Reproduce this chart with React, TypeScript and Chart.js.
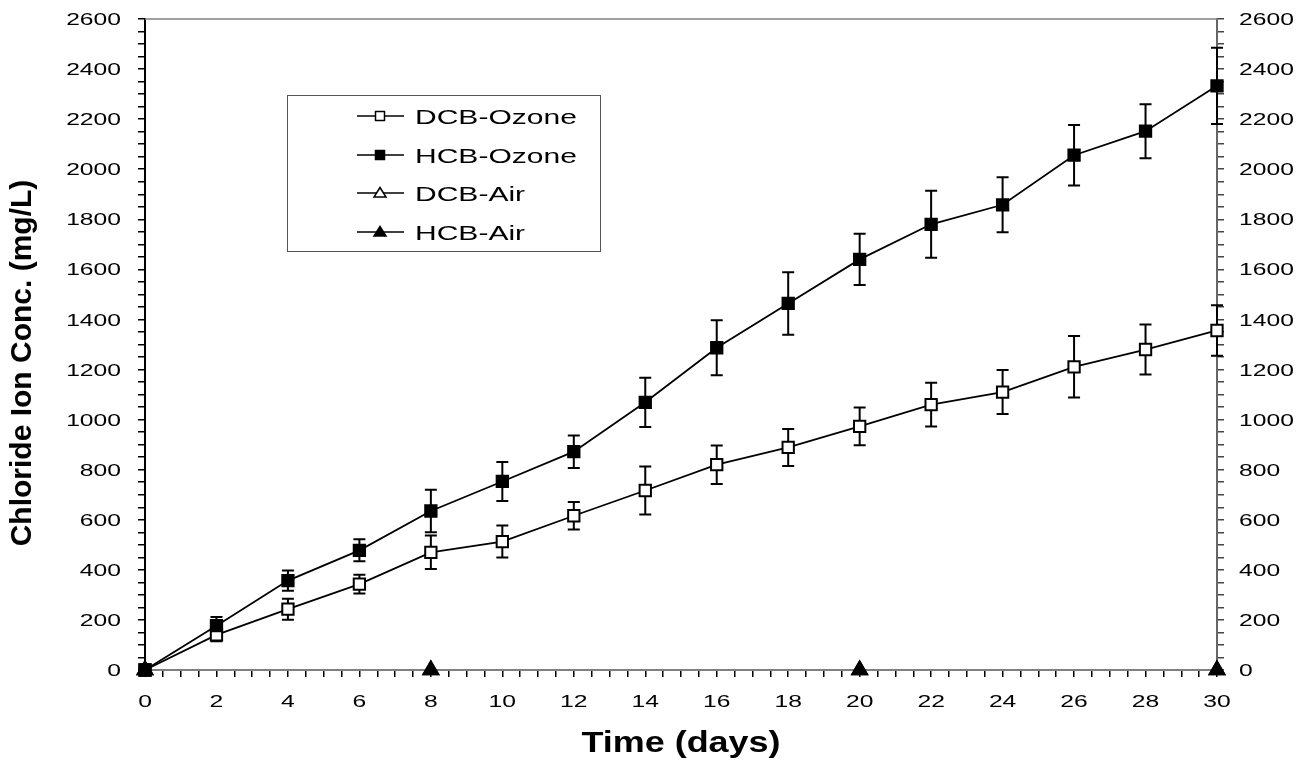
import React, { useEffect, useRef } from "react";
import { Chart, registerables } from "chart.js";

Chart.register(...registerables);

const days = [0, 2, 4, 6, 8, 10, 12, 14, 16, 18, 20, 22, 24, 26, 28, 30];
const dcbOzone = [0, 140, 243, 343, 470, 513, 616, 717, 820, 889, 973, 1060, 1110, 1211, 1280, 1356];
const dcbOzoneErr = [0, 25, 42, 37, 67, 64, 55, 96, 77, 74, 75, 87, 88, 123, 100, 101];
const hcbOzone = [0, 177, 357, 478, 635, 753, 872, 1069, 1287, 1464, 1640, 1780, 1858, 2056, 2152, 2333];
const hcbOzoneErr = [0, 35, 40, 44, 85, 78, 65, 98, 110, 125, 102, 134, 110, 121, 108, 152];
const airDays = [0, 8, 20, 30];
const dcbAir = [0, 0, 0, 0];
const hcbAir = [0, 0, 0, 0];
const seriesNames = ["DCB-Ozone", "HCB-Ozone", "DCB-Air", "HCB-Air"];
const xTitle = "Time (days)";
const yTitle = "Chloride Ion Conc. (mg/L)";

const FONT = "'Liberation Sans', Arial, sans-serif";

function stretchedText(ctx: CanvasRenderingContext2D, text: string, x: number, y: number, align: CanvasTextAlign, sx: number) {
  ctx.save();
  ctx.translate(x, y);
  ctx.scale(sx, 1);
  ctx.textAlign = align;
  ctx.textBaseline = "alphabetic";
  ctx.fillText(text, 0, 0);
  ctx.restore();
}

const errorBarPlugin = {
  id: "errorBars",
  beforeDatasetsDraw(chart: any) {
    const ctx = chart.ctx;
    const xs = chart.scales.x;
    const ys = chart.scales.y;
    const sets = [
      { vals: dcbOzone, errs: dcbOzoneErr },
      { vals: hcbOzone, errs: hcbOzoneErr },
    ];
    ctx.save();
    ctx.strokeStyle = "#000";
    ctx.lineWidth = 2;
    sets.forEach(({ vals, errs }) => {
      days.forEach((d, i) => {
        if (!errs[i]) return;
        const x = xs.getPixelForValue(d);
        const yt = ys.getPixelForValue(vals[i] + errs[i]);
        const yb = ys.getPixelForValue(vals[i] - errs[i]);
        ctx.beginPath();
        ctx.moveTo(x, yt);
        ctx.lineTo(x, yb);
        ctx.moveTo(x - 6, yt);
        ctx.lineTo(x + 6, yt);
        ctx.moveTo(x - 6, yb);
        ctx.lineTo(x + 6, yb);
        ctx.stroke();
      });
    });
    ctx.restore();
  },
};

const decorPlugin = {
  id: "decor",
  afterDraw(chart: any) {
    const ctx: CanvasRenderingContext2D = chart.ctx;
    const { left, right, top } = chart.chartArea;
    const xs = chart.scales.x;
    const ys = chart.scales.y;
    const y2 = chart.scales.y2;
    ctx.save();
    // top frame line
    ctx.strokeStyle = "#808080";
    ctx.lineWidth = 1.5;
    ctx.beginPath();
    ctx.moveTo(left, top);
    ctx.lineTo(right, top);
    ctx.stroke();

    // tick labels
    ctx.fillStyle = "#000";
    const tf = 17;
    ctx.font = `${tf}px ${FONT}`;
    const sxTick = 1.45;
    xs.ticks.forEach((t: any) => {
      if (Math.abs(t.value % 2) > 1e-6) return;
      stretchedText(ctx, String(t.value), xs.getPixelForValue(t.value), 707, "center", sxTick);
    });
    ys.ticks.forEach((t: any) => {
      if (Math.abs(t.value % 200) > 1e-6) return;
      const py = ys.getPixelForValue(t.value) + 0.358 * tf;
      stretchedText(ctx, String(t.value), 121, py, "right", sxTick);
    });
    y2.ticks.forEach((t: any) => {
      if (Math.abs(t.value % 200) > 1e-6) return;
      const py = y2.getPixelForValue(t.value) + 0.358 * tf;
      stretchedText(ctx, String(t.value), 1239, py, "left", sxTick);
    });

    // axis titles
    ctx.font = `bold 29px ${FONT}`;
    stretchedText(ctx, xTitle, (left + right) / 2, 752, "center", 1.24);
    ctx.save();
    ctx.translate(31, 363);
    ctx.rotate(-Math.PI / 2);
    ctx.font = `bold 30px ${FONT}`;
    ctx.textAlign = "center";
    ctx.textBaseline = "alphabetic";
    ctx.fillText(yTitle, 0, 0);
    ctx.restore();

    // legend
    ctx.strokeStyle = "#555";
    ctx.lineWidth = 1;
    ctx.strokeRect(287.5, 95.5, 313, 156);
    const rows = [116, 155, 193, 232];
    rows.forEach((ry, i) => {
      ctx.strokeStyle = "#000";
      ctx.lineWidth = 1.5;
      ctx.beginPath();
      ctx.moveTo(357, ry);
      ctx.lineTo(404, ry);
      ctx.stroke();
      const mx = 380;
      const filled = i === 1 || i === 3;
      ctx.fillStyle = filled ? "#000" : "#fff";
      ctx.beginPath();
      if (i < 2) {
        ctx.rect(mx - 4.5, ry - 4.5, 9, 9);
      } else {
        ctx.moveTo(mx, ry - 5.5);
        ctx.lineTo(mx + 6, ry + 4);
        ctx.lineTo(mx - 6, ry + 4);
        ctx.closePath();
      }
      ctx.fill();
      ctx.stroke();
      ctx.fillStyle = "#000";
      ctx.font = `21px ${FONT}`;
      stretchedText(ctx, seriesNames[i], 415, ry + 7.5, "left", 1.43);
    });
    ctx.restore();
  },
};

export default function App() {
  const ref = useRef<HTMLCanvasElement | null>(null);
  useEffect(() => {
    if (!ref.current) return;
    const pts = (xs: number[], ys: number[]) => xs.map((x, i) => ({ x, y: ys[i] }));
    const chart = new Chart(ref.current, {
      type: "line",
      data: {
        datasets: [
          {
            label: seriesNames[0],
            data: pts(days, dcbOzone),
            borderColor: "#000",
            borderWidth: 1.8,
            pointStyle: "rect",
            pointRadius: 8,
            pointBorderWidth: 2,
            pointBackgroundColor: "#fff",
            pointBorderColor: "#000",
            clip: false,
            order: 2,
          },
          {
            label: seriesNames[1],
            data: pts(days, hcbOzone),
            borderColor: "#000",
            borderWidth: 1.8,
            pointStyle: "rect",
            pointRadius: 8,
            pointBorderWidth: 2,
            pointBackgroundColor: "#000",
            pointBorderColor: "#000",
            clip: false,
            order: 0,
          },
          {
            label: seriesNames[2],
            data: pts(airDays, dcbAir),
            showLine: false,
            pointStyle: "triangle",
            pointRadius: 9,
            pointBorderWidth: 1.5,
            pointBackgroundColor: "#fff",
            pointBorderColor: "#000",
            clip: false,
            order: 3,
          },
          {
            label: seriesNames[3],
            data: pts(airDays, hcbAir),
            showLine: false,
            pointStyle: "triangle",
            pointRadius: 9,
            pointBorderWidth: 1.5,
            pointBackgroundColor: "#000",
            pointBorderColor: "#000",
            clip: false,
            order: 1,
          },
        ],
      },
      options: {
        responsive: false,
        animation: false,
        events: [],
        layout: { padding: { top: 19, left: 0, right: 0, bottom: 0 } },
        plugins: { legend: { display: false }, tooltip: { enabled: false } },
        scales: {
          x: {
            type: "linear",
            min: 0,
            max: 30,
            ticks: { stepSize: 0.5, display: false, autoSkip: false },
            grid: { drawOnChartArea: false, drawTicks: true, tickLength: 7, color: "#000", lineWidth: 1.5 },
            border: { display: true, color: "#808080", width: 2 },
            afterFit: (s: any) => { s.height = 90; },
          },
          y: {
            type: "linear",
            position: "left",
            min: 0,
            max: 2600,
            ticks: { stepSize: 50, display: false, autoSkip: false },
            grid: { drawOnChartArea: false, drawTicks: true, tickLength: 7, color: "#000", lineWidth: 1.5 },
            border: { display: true, color: "#000", width: 2 },
            afterFit: (s: any) => { s.width = 145; },
          },
          y2: {
            type: "linear",
            position: "right",
            min: 0,
            max: 2600,
            ticks: { stepSize: 50, display: false, autoSkip: false },
            grid: { drawOnChartArea: false, drawTicks: true, tickLength: 7, color: "#444", lineWidth: 1.5 },
            border: { display: true, color: "#666", width: 2 },
            afterFit: (s: any) => { s.width = 98; },
          },
        },
      },
      plugins: [errorBarPlugin, decorPlugin],
    } as any);
    return () => chart.destroy();
  }, []);
  return (
    <canvas
      ref={ref}
      width={1315}
      height={760}
      style={{ position: "fixed", left: 0, top: 0, display: "block", background: "#fff" }}
    />
  );
}
